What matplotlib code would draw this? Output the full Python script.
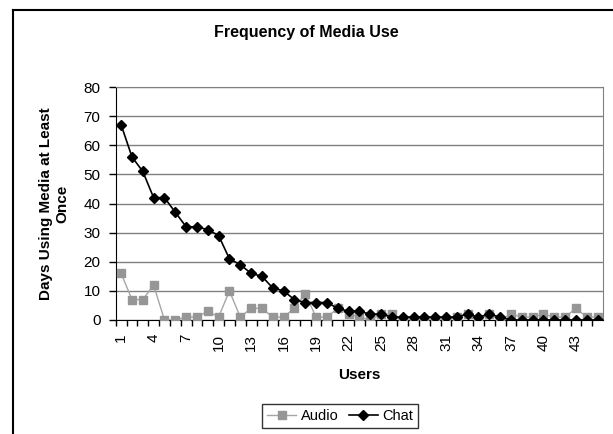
import matplotlib
matplotlib.use('Agg')
from matplotlib import pyplot as plt
from matplotlib.lines import Line2D

plt.rcParams['font.family'] = ['Liberation Sans', 'DejaVu Sans']

users = list(range(1, 46))
audio = [16, 7, 7, 12, 0, 0, 1, 1, 3, 1, 10, 1, 4, 4, 1, 1, 4, 9, 1, 1,
         4, 2, 1, 0, 2, 2, 0, 0, 0, 0, 0, 1, 2, 0, 2, 0, 2, 1, 1, 2,
         1, 1, 4, 1, 1]
chat = [67, 56, 51, 42, 42, 37, 32, 32, 31, 29, 21, 19, 16, 15, 11, 10, 7, 6, 6, 6,
        4, 3, 3, 2, 2, 1, 1, 1, 1, 1, 1, 1, 2, 1, 2, 1, 0, 0, 0, 0,
        0, 0, 0, 0, 0]
tick_labels = [str(u) for u in users[::3]]

fig = plt.figure(figsize=(6.13, 4.34), dpi=100)
ax = fig.add_axes([0.1888, 0.2627, 0.7949, 0.5368])

ax.plot(users, audio, color='#a6a6a6', lw=1, marker='s', ms=6,
        mfc='#969696', mec='#969696', label='Audio', zorder=3)
ax.plot(users, chat, color='black', lw=1.2, marker='D', ms=5,
        mfc='black', mec='black', label='Chat', zorder=4)

ax.set_xlim(0.5, 45.5)
ax.set_ylim(0, 80)
ax.set_yticks(range(0, 81, 10))
ax.yaxis.grid(True, color='#808080', lw=1)
ax.set_axisbelow(True)

# ticks between categories, labels every third category
ax.set_xticks([u + 0.5 for u in users[:-1]] + [0.5])
ax.set_xticklabels([])
ax.set_xticks(users[::3], minor=True)
ax.set_xticklabels(tick_labels, minor=True, rotation=90, fontsize=11)
ax.tick_params(axis='x', which='major', length=4, direction='out', width=1)
ax.tick_params(axis='x', which='minor', length=0, pad=10)
ax.tick_params(axis='y', length=5, width=1, labelsize=11, pad=6)

for s in ['top', 'right']:
    ax.spines[s].set_color('#808080')
for s in ['left', 'bottom']:
    ax.spines[s].set_color('black')

ax.set_xlabel('Users', fontsize=11, fontweight='bold', labelpad=12)
ax.set_ylabel('Days Using Media at Least\nOnce', fontsize=11, fontweight='bold',
              labelpad=10)
fig.text(0.5, 1 - 32 / 434, 'Frequency of Media Use', ha='center', va='center',
         fontsize=11.5, fontweight='bold')

leg = ax.legend(loc='center', bbox_to_anchor=(340 / 613, 1 - 416 / 434),
                bbox_transform=fig.transFigure, ncol=2, frameon=True,
                fancybox=False, edgecolor='black', fontsize=10.5,
                handlelength=2.0, columnspacing=0.7, handletextpad=0.3,
                borderpad=0.35)
leg.get_frame().set_linewidth(1)

# outer chart frame
fig.add_artist(Line2D([13 / 613, 13 / 613], [0, 1 - 10 / 434], color='black', lw=1.5,
                      transform=fig.transFigure))
fig.add_artist(Line2D([13 / 613, 1], [1 - 10 / 434, 1 - 10 / 434], color='black', lw=1.5,
                      transform=fig.transFigure))

fig.savefig('out.png', dpi=100)
